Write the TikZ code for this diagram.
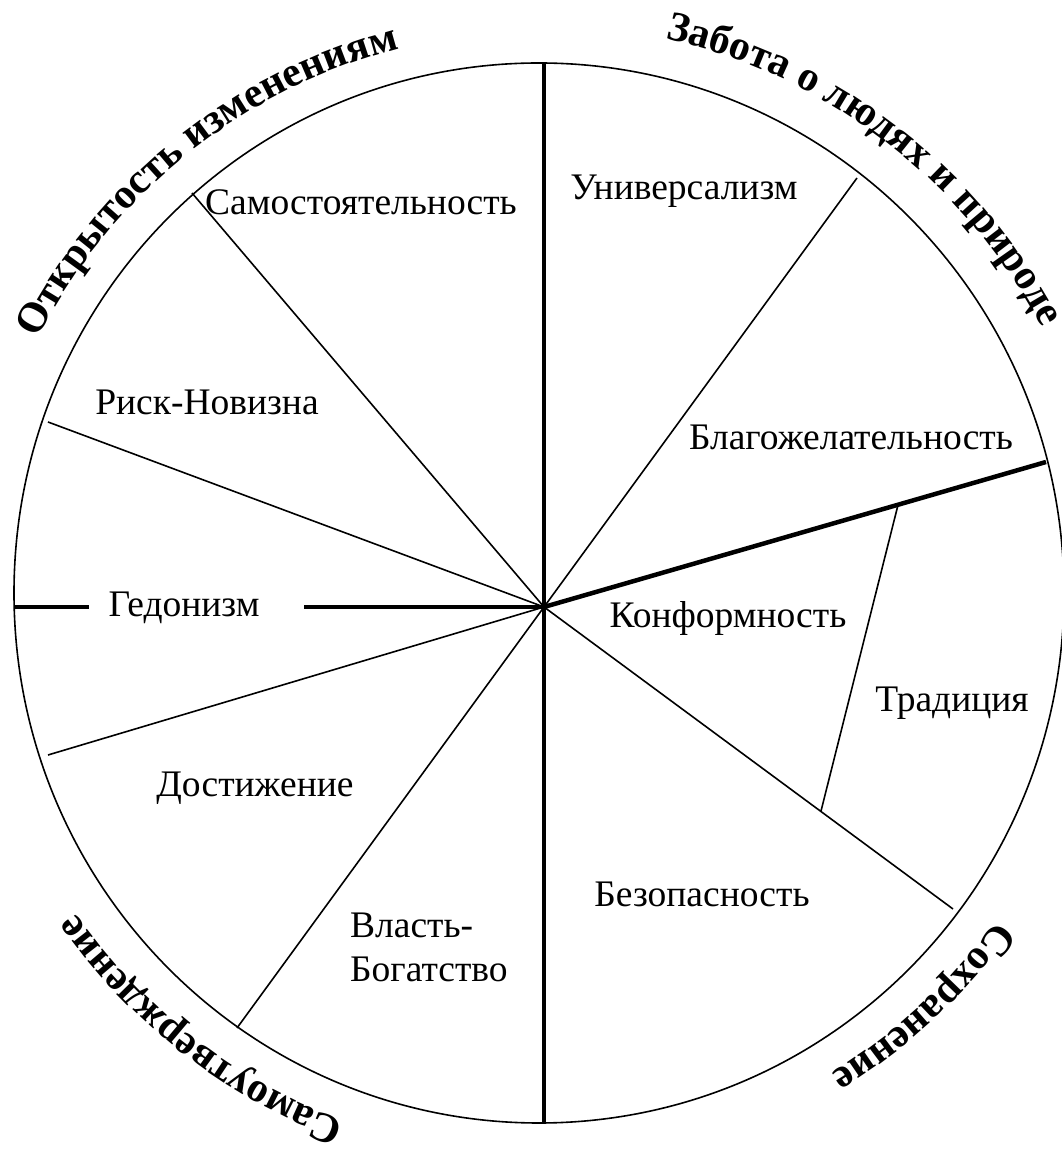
\documentclass[tikz,border=0pt]{standalone}
\usepackage{fontspec}
\setmainfont{Liberation Serif}
\usetikzlibrary{decorations.text}
\begin{document}
\begin{tikzpicture}[x=1pt,y=1pt,
  thickline/.style={line width=4.5pt},
  thinline/.style={line width=1.6pt},
  lbl/.style={font=\fontsize{37.5}{44}\selectfont, inner sep=0pt, anchor=base}]
\useasboundingbox (0,0) rectangle (1062,1151);
% geometry
\coordinate (C) at (539,558);
\coordinate (H) at (544,544);
\coordinate (T) at (544,1088);
\coordinate (B) at (544,28);
\coordinate (R) at (1046,689);
\coordinate (L) at (14,544);
\coordinate (L1) at (89,544);
\coordinate (L2) at (304,544);
\coordinate (S1) at (192,958);
\coordinate (S2) at (857,973);
\coordinate (S3) at (48,729);
\coordinate (S4) at (48,396);
\coordinate (S5) at (237,123);
\coordinate (S6) at (953,242);
\coordinate (Tr1) at (898,646);
\coordinate (Tr2) at (821,340);
% outline
\draw[thinline] (C) ellipse [x radius=525, y radius=530];
% main axes
\draw[thickline] (T) -- (B);
\draw[thickline] (H) -- (R);
\draw[thickline] (L) -- (L1);
\draw[thickline] (L2) -- (H);
% thin dividers
\draw[thinline] (H) -- (S1);
\draw[thinline] (H) -- (S2);
\draw[thinline] (H) -- (S3);
\draw[thinline] (H) -- (S4);
\draw[thinline] (H) -- (S5);
\draw[thinline] (H) -- (S6);
\draw[thinline] (Tr1) -- (Tr2);
% labels
\node[lbl] (samost) at (361,936) {Самостоятельность};
\node[lbl] (univ) at (684,951) {Универсализм};
\node[lbl] (blago) at (851,701) {Благожелательность};
\node[lbl] (konf) at (728,523) {Конформность};
\node[lbl] (trad) at (952,439) {Традиция};
\node[lbl] (bezop) at (702,244) {Безопасность};
\node[lbl, anchor=base west] (vlast) at (350,213) {Власть-};
\node[lbl, anchor=base west] (bogat) at (350,169) {Богатство};
\node[lbl] (dost) at (255,354) {Достижение};
\node[lbl] (gedon) at (184,534) {Гедонизм};
\node[lbl] (risk) at (207,736) {Риск-Новизна};
% curved headings
\path[decorate, decoration={text along path, text align=center,
  text={|\fontsize{42}{50}\selectfont\bfseries|Открытость изменениям}}]
  (C) ++(163.75:562) arc[start angle=163.75, end angle=93.75, radius=562];
\path[decorate, decoration={text along path, text align=center,
  text={|\fontsize{42}{50}\selectfont\bfseries|Забота о людях и природе}}]
  (C) ++(87.5:569) arc[start angle=87.5, end angle=17.5, radius=569];
\path[decorate, decoration={text along path, text align=center,
  text={|\fontsize{42}{50}\selectfont\bfseries|Самоутверждение}}]
  (C) ++(267.25:563) arc[start angle=267.25, end angle=197.25, radius=563];
\path[decorate, decoration={text along path, text align=center,
  text={|\fontsize{42}{50}\selectfont\bfseries|Сохранение}}]
  (C) ++(347.85:562) arc[start angle=347.85, end angle=277.85, radius=562];
\end{tikzpicture}
\end{document}
